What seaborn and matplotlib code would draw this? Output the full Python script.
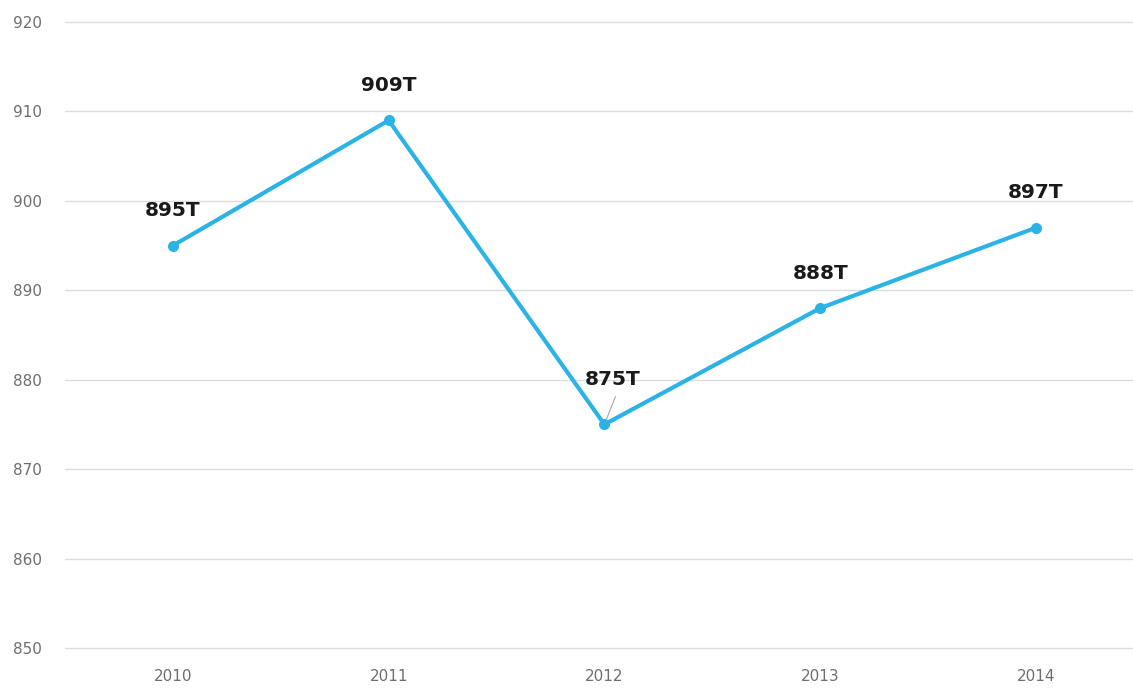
import pandas as pd
import matplotlib.pyplot as plt
import seaborn as sns

years = ["2010", "2011", "2012", "2013", "2014"]
values = [895, 909, 875, 888, 897]
labels = ["895T", "909T", "875T", "888T", "897T"]

df = pd.DataFrame({"year": years, "value": values})

sns.set_theme(style="white")
plt.rcParams['font.family'] = ['DejaVu Sans']

fig = plt.figure(figsize=(11.33, 6.88), dpi=100)
ax = fig.add_axes([65 / 1133, 40 / 688, 1 - 65 / 1133, 626 / 688])

line_color = "#2BB3E6"
sns.lineplot(data=df, x="year", y="value", ax=ax, color=line_color,
             linewidth=3, marker="o", markersize=8, markeredgewidth=0, sort=False)

ax.set_ylim(850, 920)
ax.set_yticks(range(850, 921, 10))
ax.set_xlim(-0.5, 4.45)
ax.yaxis.grid(True, color="#dcdcdc", linewidth=1)
for gl in ax.get_ygridlines():
    gl.set_clip_on(False)
ax.set_axisbelow(True)
for s in ax.spines.values():
    s.set_visible(False)
ax.set_xlabel("")
ax.set_ylabel("")
ax.tick_params(axis="y", labelsize=11, labelcolor="#6e6e6e", pad=27, length=0)
ax.tick_params(axis="x", labelsize=11, labelcolor="#6e6e6e", pad=15, length=0)
for t in ax.get_yticklabels():
    t.set_horizontalalignment("center")

# data labels
for i, (v, lab) in enumerate(zip(values, labels)):
    if lab == "875T":
        # this one sits on the line, so it gets a small leader line
        ax.annotate(lab, xy=(i, v), xytext=(6, 32), textcoords="offset points",
                    ha="center", va="center", fontsize=14.5, fontweight="bold",
                    color="#1a1a1a",
                    arrowprops=dict(arrowstyle="-", color="#a6a6a6", lw=0.8,
                                    relpos=(0.6, 0), shrinkA=3, shrinkB=4))
    else:
        ax.annotate(lab, xy=(i, v), xytext=(0, 25), textcoords="offset points",
                    ha="center", va="center", fontsize=14.5, fontweight="bold",
                    color="#1a1a1a")

fig.savefig("out.png", dpi=100)
